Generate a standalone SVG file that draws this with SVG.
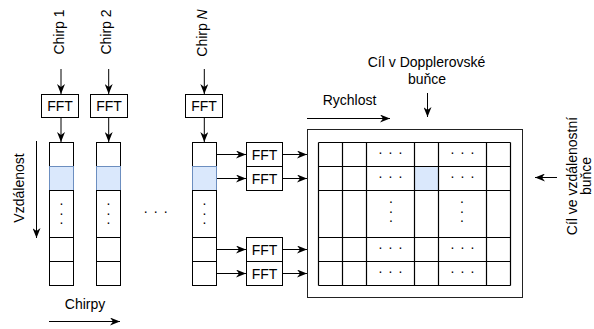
<svg xmlns="http://www.w3.org/2000/svg" width="594" height="329" viewBox="0 0 594 329">
  <style>
    text { font-family: "Liberation Sans", Arial, Helvetica, sans-serif; font-size: 14px; fill: #000; }
    .c { text-anchor: middle; }
    .box { fill: #fff; stroke: #000; stroke-width: 1; }
    .hl { fill: #dae8fc; stroke: #6c8ebf; stroke-width: 1; }
    .grid { fill: none; stroke: #000; stroke-width: 1.2; }
    .frame { fill: #fff; stroke: #222; stroke-width: 1; }
    .edge { fill: none; stroke: #000; stroke-width: 1; marker-end: url(#arrow); }
  </style>
  <defs>
    <marker id="arrow" viewBox="0 0 10 8" refX="10" refY="4" markerWidth="10" markerHeight="8" markerUnits="userSpaceOnUse" orient="auto">
      <path d="M0,0 L10,4 L0,8 L3,4 Z" fill="#000"/>
    </marker>
  </defs>

  <rect width="594" height="329" fill="#fff"/>

  <!-- chirp labels -->
  <g id="label-chirp1"><text class="c" transform="translate(63.6,32) rotate(-90)">Chirp 1</text></g>
  <g id="label-chirp2"><text class="c" transform="translate(111.1,32) rotate(-90)">Chirp 2</text></g>
  <g id="label-chirpN"><text class="c" transform="translate(207.1,33) rotate(-90)">Chirp <tspan font-style="italic">N</tspan></text></g>

  <!-- range FFT per chirp -->
  <g id="fft-chirp1"><rect class="box" x="41.5" y="94.5" width="37" height="23"/><text class="c" x="60" y="111">FFT</text></g>
  <g id="fft-chirp2"><rect class="box" x="90.5" y="94.5" width="37" height="23"/><text class="c" x="109" y="111">FFT</text></g>
  <g id="fft-chirpN"><rect class="box" x="185.5" y="94.5" width="37" height="23"/><text class="c" x="204" y="111">FFT</text></g>

  <!-- range bins of each chirp -->
  <g id="column-chirp1">
    <rect class="box" x="49.5" y="142.5" width="24" height="24"/>
    <rect class="hl" x="49.5" y="166.5" width="24" height="24"/>
    <rect class="box" x="49.5" y="190.5" width="24" height="47"/>
    <rect class="box" x="49.5" y="237.5" width="24" height="24"/>
    <rect class="box" x="49.5" y="261.5" width="24" height="24"/>
    <text class="c" x="61.5 61.5 61.5" y="205 214.7 224.4">...</text>
  </g>
  <g id="column-chirp2">
    <rect class="box" x="96.5" y="142.5" width="24" height="24"/>
    <rect class="hl" x="96.5" y="166.5" width="24" height="24"/>
    <rect class="box" x="96.5" y="190.5" width="24" height="47"/>
    <rect class="box" x="96.5" y="237.5" width="24" height="24"/>
    <rect class="box" x="96.5" y="261.5" width="24" height="24"/>
    <text class="c" x="108.5 108.5 108.5" y="205 214.7 224.4">...</text>
  </g>
  <g id="column-chirpN">
    <rect class="box" x="192.5" y="142.5" width="24" height="24"/>
    <rect class="hl" x="192.5" y="166.5" width="24" height="24"/>
    <rect class="box" x="192.5" y="190.5" width="24" height="47"/>
    <rect class="box" x="192.5" y="237.5" width="24" height="24"/>
    <rect class="box" x="192.5" y="261.5" width="24" height="24"/>
    <text class="c" x="204.5 204.5 204.5" y="205 214.7 224.4">...</text>
  </g>
  <g id="columns-gap"><text class="c" x="145.7 155.7 165.7" y="213">...</text></g>

  <!-- Doppler FFT per range bin -->
  <g id="fft-bin1"><rect class="box" x="246.5" y="142.5" width="36" height="24"/><text class="c" x="264.5" y="159.5">FFT</text></g>
  <g id="fft-bin2"><rect class="box" x="246.5" y="166.5" width="36" height="24"/><text class="c" x="264.5" y="183.5">FFT</text></g>
  <g id="fft-binM1"><rect class="box" x="246.5" y="237.5" width="36" height="24"/><text class="c" x="264.5" y="254.5">FFT</text></g>
  <g id="fft-binM"><rect class="box" x="246.5" y="261.5" width="36" height="24"/><text class="c" x="264.5" y="278.5">FFT</text></g>

  <!-- range-Doppler map -->
  <g id="range-doppler-map">
    <rect class="frame" x="307.5" y="129.5" width="215" height="168"/>
    <rect class="hl" x="414.5" y="166.5" width="24" height="24"/>
    <path class="grid" d="M318.5,142.5 H510.5 M318.5,166.5 H510.5 M318.5,190.5 H510.5 M318.5,237.5 H510.5 M318.5,261.5 H510.5 M318.5,285.5 H510.5
      M318.5,142.5 V285.5 M342.5,142.5 V285.5 M366.5,142.5 V285.5 M414.5,142.5 V285.5 M438.5,142.5 V285.5 M486.5,142.5 V285.5 M510.5,142.5 V285.5"/>
    <text class="c" x="380.5 390.5 400.5" y="153.5">...</text>
    <text class="c" x="380.5 390.5 400.5" y="177.5">...</text>
    <text class="c" x="380.5 390.5 400.5" y="248.5">...</text>
    <text class="c" x="380.5 390.5 400.5" y="272.5">...</text>
    <text class="c" x="452.5 462.5 472.5" y="153.5">...</text>
    <text class="c" x="452.5 462.5 472.5" y="177.5">...</text>
    <text class="c" x="452.5 462.5 472.5" y="248.5">...</text>
    <text class="c" x="452.5 462.5 472.5" y="272.5">...</text>
    <text class="c" x="391 391 391" y="203 212.7 222.4">...</text>
    <text class="c" x="462 462 462" y="203 212.7 222.4">...</text>
  </g>

  <!-- axis and target labels -->
  <g id="label-range"><text class="c" transform="translate(24,188) rotate(-90)">Vzdálenost</text></g>
  <g id="label-chirps"><text class="c" x="85" y="308.5">Chirpy</text></g>
  <g id="label-velocity"><text class="c" x="349.5" y="105.2">Rychlost</text></g>
  <g id="label-doppler-cell"><text class="c" x="426.5" y="66.9">Cíl v Dopplerovské</text><text class="c" x="427" y="83.5">buňce</text></g>
  <g id="label-range-cell"><text class="c" transform="translate(576.5,176) rotate(-90)">Cíl ve vzdálenostní<tspan x="0" dy="14.5">buňce</tspan></text></g>

  <!-- connectors -->
  <g id="connectors">
    <path class="edge" d="M61,69 V94"/>
    <path class="edge" d="M108.7,69 V94"/>
    <path class="edge" d="M204.3,69 V94"/>
    <path class="edge" d="M61,118 V142"/>
    <path class="edge" d="M108.7,118 V142"/>
    <path class="edge" d="M204.3,118 V142"/>
    <path class="edge" d="M217,154.5 H246"/>
    <path class="edge" d="M217,178.5 H246"/>
    <path class="edge" d="M217,249.5 H246"/>
    <path class="edge" d="M217,273.5 H246"/>
    <path class="edge" d="M283,154.5 H307"/>
    <path class="edge" d="M283,178.5 H307"/>
    <path class="edge" d="M283,249.5 H307"/>
    <path class="edge" d="M283,273.5 H307"/>
    <path class="edge" d="M36.5,141 V238"/>
    <path class="edge" d="M49,321.5 H120"/>
    <path class="edge" d="M307,118.5 H390"/>
    <path class="edge" d="M427.5,93 V117"/>
    <path class="edge" d="M557,177.5 H535"/>
  </g>
</svg>
